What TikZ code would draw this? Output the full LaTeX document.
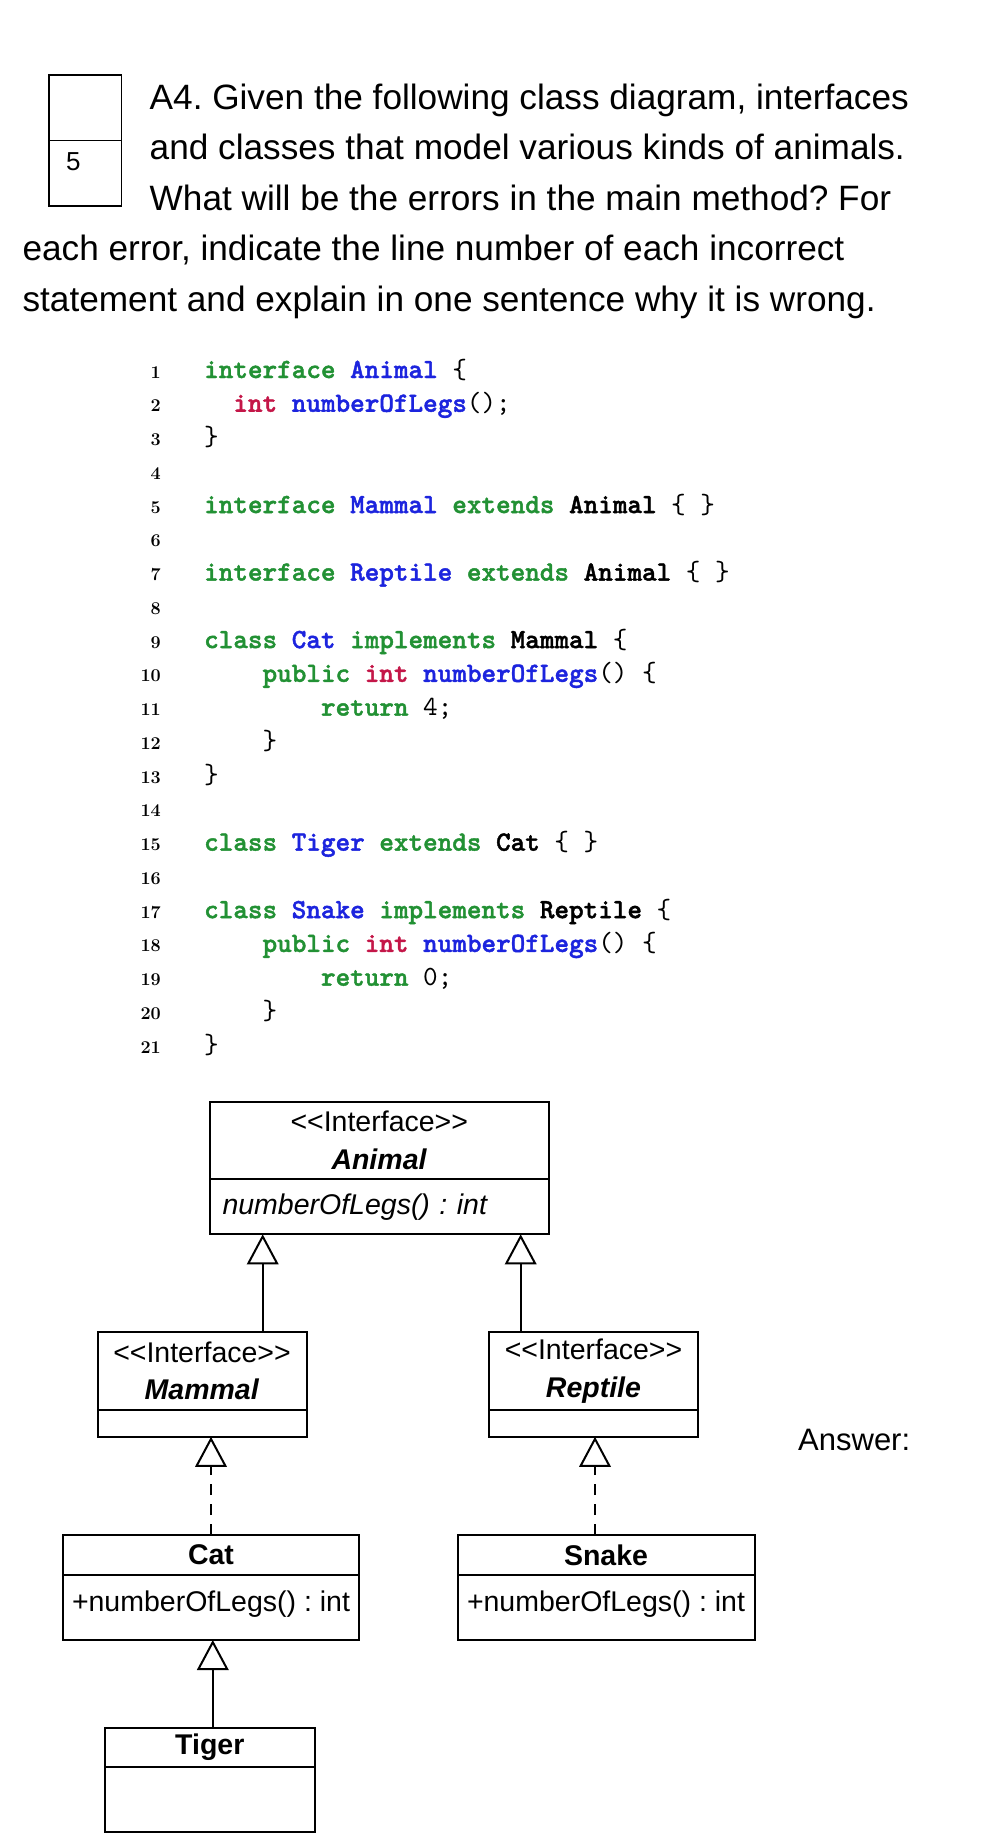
\documentclass[tikz,border=0pt]{standalone}
\usepackage{fontspec}
\usetikzlibrary{arrows.meta}
\newfontfamily\arialfont{Liberation Sans}
\newfontfamily\codefont{lmmono10-regular.otf}[BoldFont=lmmonolt10-bold.otf, BoldFeatures={FakeBold=1.5}]
\definecolor{kwgreen}{RGB}{34,145,52}
\definecolor{idblue}{RGB}{28,36,222}
\definecolor{tyred}{RGB}{196,22,72}
\newcommand{\jkw}[1]{\textcolor{kwgreen}{\bfseries #1}}
\newcommand{\jid}[1]{\textcolor{idblue}{\bfseries #1}}
\newcommand{\jty}[1]{\textcolor{tyred}{\bfseries #1}}
\newcommand{\jtx}[1]{{\bfseries #1}}
\newcommand{\stereo}{\textless\textless Interface\textgreater\textgreater}
\frenchspacing
\begin{document}
\begin{tikzpicture}[x=1pt, y=-1pt,
  head/.style={anchor=base west, inner sep=0pt, font=\arialfont\fontsize{35.2}{40}\selectfont},
  lineno/.style={anchor=base east, inner sep=0pt, font=\fontsize{18}{20}\selectfont\bfseries},
  codeln/.style={anchor=base west, inner sep=0pt, font=\codefont\fontsize{27.8}{33}\selectfont},
  umlhead/.style={draw, line width=2pt, outer sep=0pt, inner sep=0pt, align=center,
    font=\arialfont\fontsize{28.5}{37.7}\selectfont},
  umlbody/.style={draw, line width=2pt, outer sep=0pt, inner sep=0pt, anchor=north,
    font=\arialfont\fontsize{28.5}{34}\selectfont},
  inherit/.style={line width=2pt, -{Triangle[open, width=31.5pt, length=30pt]}},
  realize/.style={inherit, dash pattern=on 11pt off 9pt}]
\fill[white] (0,0) rectangle (991,1847);
\begin{scope}
\node[draw, line width=1.2pt, minimum width=72.5pt, minimum height=131pt] (score) at (85.3,140.5) {};
\draw[line width=1.2pt] (score.west) -- (score.east);
\node[anchor=base, inner sep=0pt, font=\arialfont\fontsize{26}{30}\selectfont] (points) at (73.3,170) {5};
\node[head] (q1) at (149.5,109) {A4. Given the following class diagram, interfaces};
\node[head] (q2) at (149.5,159.5) {and classes that model various kinds of animals.};
\node[head] (q3) at (149.5,210) {What will be the errors in the main method? For};
\node[head] (q4) at (22.4,260.5) {each error, indicate the line number of each incorrect};
\node[head] (q5) at (22.4,311) {statement and explain in one sentence why it is wrong.};
\end{scope}
\begin{scope}
\foreach \i in {1,...,21}
  \node[lineno] (ln\i) at (161,{378+(\i-1)*33.76}) {\i};
\node[codeln] (c1) at (204,378) {\jkw{interface} \jid{Animal} \{};
\node[codeln] (c2) at (233.2,411.76) {\jty{int} \jid{numberOfLegs}();};
\node[codeln] (c3) at (204,445.52) {\}};
\node[codeln] (c5) at (204,513.04) {\jkw{interface} \jid{Mammal} \jkw{extends} \jtx{Animal} \{ \}};
\node[codeln] (c7) at (204,580.56) {\jkw{interface} \jid{Reptile} \jkw{extends} \jtx{Animal} \{ \}};
\node[codeln] (c9) at (204,648.08) {\jkw{class} \jid{Cat} \jkw{implements} \jtx{Mammal} \{};
\node[codeln] (c10) at (262.4,681.84) {\jkw{public} \jty{int} \jid{numberOfLegs}() \{};
\node[codeln] (c11) at (320.8,715.6) {\jkw{return} 4;};
\node[codeln] (c12) at (262.4,749.36) {\}};
\node[codeln] (c13) at (204,783.12) {\}};
\node[codeln] (c15) at (204,850.64) {\jkw{class} \jid{Tiger} \jkw{extends} \jtx{Cat} \{ \}};
\node[codeln] (c17) at (204,918.16) {\jkw{class} \jid{Snake} \jkw{implements} \jtx{Reptile} \{};
\node[codeln] (c18) at (262.4,951.92) {\jkw{public} \jty{int} \jid{numberOfLegs}() \{};
\node[codeln] (c19) at (320.8,985.68) {\jkw{return} 0;};
\node[codeln] (c20) at (262.4,1019.44) {\}};
\node[codeln] (c21) at (204,1053.2) {\}};
\end{scope}
\begin{scope}
\node[umlhead, minimum width=339.5pt, minimum height=77.6pt] (animal) at (379.25,1140.5)
  {\stereo\\\textbf{\textit{Animal}}};
\node[umlbody, minimum height=55pt, text width=313.5pt, inner xsep=13pt, align=left] (animalops)
  at (animal.south) {\textit{numberOfLegs() : int}};
\node[umlhead, minimum width=209pt, minimum height=78.3pt] (mammal) at (202,1370.9)
  {\stereo\\\textbf{\textit{Mammal}}};
\node[umlbody, minimum width=209pt, minimum height=26.7pt] (mammalops) at (mammal.south) {};
\node[umlhead, minimum width=208.5pt, minimum height=78.3pt] (reptile) at (593.5,1370.9)
  {\stereo\\\textbf{\textit{Reptile}}};
\node[umlbody, minimum width=208.5pt, minimum height=26.7pt] (reptileops) at (reptile.south) {};
\node[umlhead, minimum width=296pt, minimum height=40pt] (cat) at (211,1555) {\textbf{Cat}};
\node[umlbody, minimum width=296pt, minimum height=65pt, text depth=12.5pt] (catops)
  at (cat.south) {+numberOfLegs() : int};
\node[umlhead, minimum width=297pt, minimum height=40pt] (snake) at (606,1555) {\textbf{Snake}};
\node[umlbody, minimum width=297pt, minimum height=65pt, text depth=12.5pt] (snakeops)
  at (snake.south) {+numberOfLegs() : int};
\node[umlhead, minimum width=209.7pt, minimum height=39pt] (tiger) at (209.8,1747.5) {\textbf{Tiger}};
\node[umlbody, minimum width=209.7pt, minimum height=65pt] (tigerops) at (tiger.south) {};
\draw[inherit] ([xshift=60.7pt]mammal.north) -- ([xshift=60.7pt]mammal.north |- animalops.south);
\draw[inherit] ([xshift=-72.8pt]reptile.north) -- ([xshift=-72.8pt]reptile.north |- animalops.south);
\draw[realize] (cat.north) -- (cat.north |- mammalops.south);
\draw[realize] ([xshift=1.5pt]reptileops.south |- snake.north) -- ([xshift=1.5pt]reptileops.south);
\draw[inherit] ([xshift=3pt]tiger.north) -- ([xshift=3pt]tiger.north |- catops.south);
\node[anchor=base west, inner sep=0pt, font=\arialfont\fontsize{31}{36}\selectfont] (answer)
  at (798,1450) {Answer:};
\end{scope}
\end{tikzpicture}
\end{document}
